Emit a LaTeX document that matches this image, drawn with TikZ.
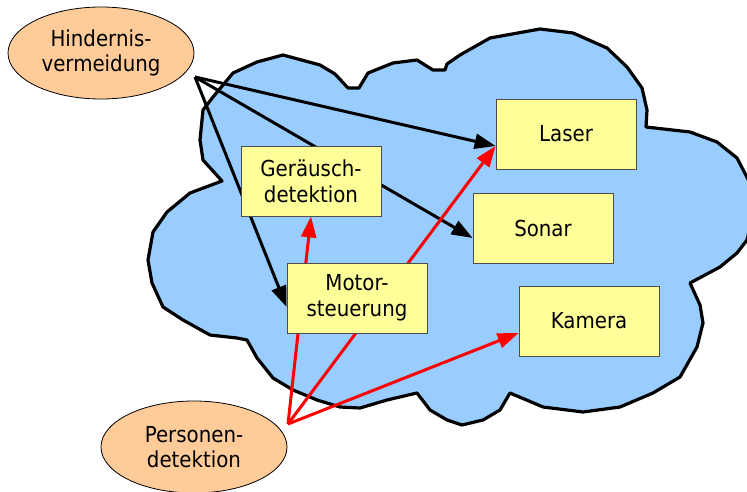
\documentclass[tikz,border=0pt]{standalone}
\usepackage{fontspec}
\setmainfont{DejaVu Sans}[FakeStretch=0.9]
\usepackage{tikz}
\usetikzlibrary{arrows.meta, shapes.geometric}
\definecolor{cloudblue}{HTML}{99CCFF}
\definecolor{sensoryellow}{HTML}{FFFF99}
\definecolor{taskorange}{HTML}{FFCC99}
\definecolor{sensoredge}{gray}{0.3}
\pgfdeclarelayer{cloudlayer}
\pgfdeclarelayer{arrowlayer}
\pgfsetlayers{cloudlayer,arrowlayer,main}

\begin{document}
\begin{tikzpicture}[
    x=1pt, y=-1pt,
    every node/.style={font=\fontsize{22}{25.6}\selectfont, align=center, inner sep=0pt},
    sensor/.style={draw=sensoredge, fill=sensoryellow, line width=0.8pt, minimum width=140pt, minimum height=70pt},
    task/.style  ={ellipse, draw=black, fill=taskorange, line width=0.8pt, minimum width=186pt, minimum height=92pt},
    robotcloud/.style={draw=black, fill=cloudblue, line width=3.2pt, line join=round},
    avoid/.style ={-{Triangle[length=21pt, width=15pt]}, line width=3pt, draw=black},
    detect/.style={-{Triangle[length=21pt, width=15pt]}, line width=3pt, draw=red}
]
\useasboundingbox (0,0) rectangle (747,492);

% Tasks (outside the cloud)
\node[task] (avoid)  at (101,53)  {Hindernis-\\vermeidung};
\node[task] (person) at (194,447) {Personen-\\detektion};

% Components inside the cloud
\node[sensor] (noise) at (311,181) {Geräusch-\\detektion};
\node[sensor] (motor) at (357,298) {Motor-\\steuerung};
\node[sensor] (laser) at (566,134) {Laser};
\node[sensor] (sonar) at (543,228) {Sonar};
\node[sensor] (cam)   at (589,321) {Kamera};

% Arrow sources
\coordinate (avoidsrc)  at (195,77);
\coordinate (personsrc) at (288,424);

% Cloud
\begin{pgfonlayer}{cloudlayer}
\draw[robotcloud] (222,181) -- (203,160) -- (200,140) -- (203,110) -- (213,97) -- (233,73)
  -- (257,62) -- (283,55) -- (320,65) -- (335,74) -- (348,88) -- (359,88) -- (368,73)
  -- (393,63) -- (417,60) -- (433,70) -- (445,70) -- (447,64) -- (460,55) -- (490,38)
  -- (540,29) -- (573,33) -- (607,48) -- (627,67) -- (642,88) -- (647,110) -- (646,127)
  -- (690,132) -- (717,142) -- (737,158) -- (751,185) -- (753,215) -- (747,240)
  -- (737,253) -- (720,267) -- (690,283) -- (700,305) -- (703,323) -- (697,347)
  -- (680,377) -- (653,393) -- (620,407) -- (583,412) -- (543,407) -- (510,393)
  -- (500,410) -- (483,420) -- (462,425) -- (447,420) -- (430,410) -- (417,393)
  -- (387,400) -- (360,408) -- (340,407) -- (317,400) -- (293,390) -- (273,378)
  -- (257,358) -- (247,340) -- (237,338) -- (210,335) -- (183,320) -- (163,307)
  -- (152,283) -- (148,260) -- (153,232) -- (167,212) -- (190,193) -- cycle;
\end{pgfonlayer}

% Arrows (behind the boxes)
\begin{pgfonlayer}{arrowlayer}
\draw[avoid] (avoidsrc) -- ([yshift=-12pt]laser.west);
\draw[avoid] (avoidsrc) -- ([yshift=-10pt]sonar.west);
\draw[avoid] (avoidsrc) -- ([yshift=-9pt]motor.west);
\draw[detect] (personsrc) -- (noise.south);
\draw[detect] (personsrc) -- ([yshift=-12pt]laser.west);
\draw[detect] (personsrc) -- ([yshift=-12pt]cam.west);
\end{pgfonlayer}

\end{tikzpicture}
\end{document}
